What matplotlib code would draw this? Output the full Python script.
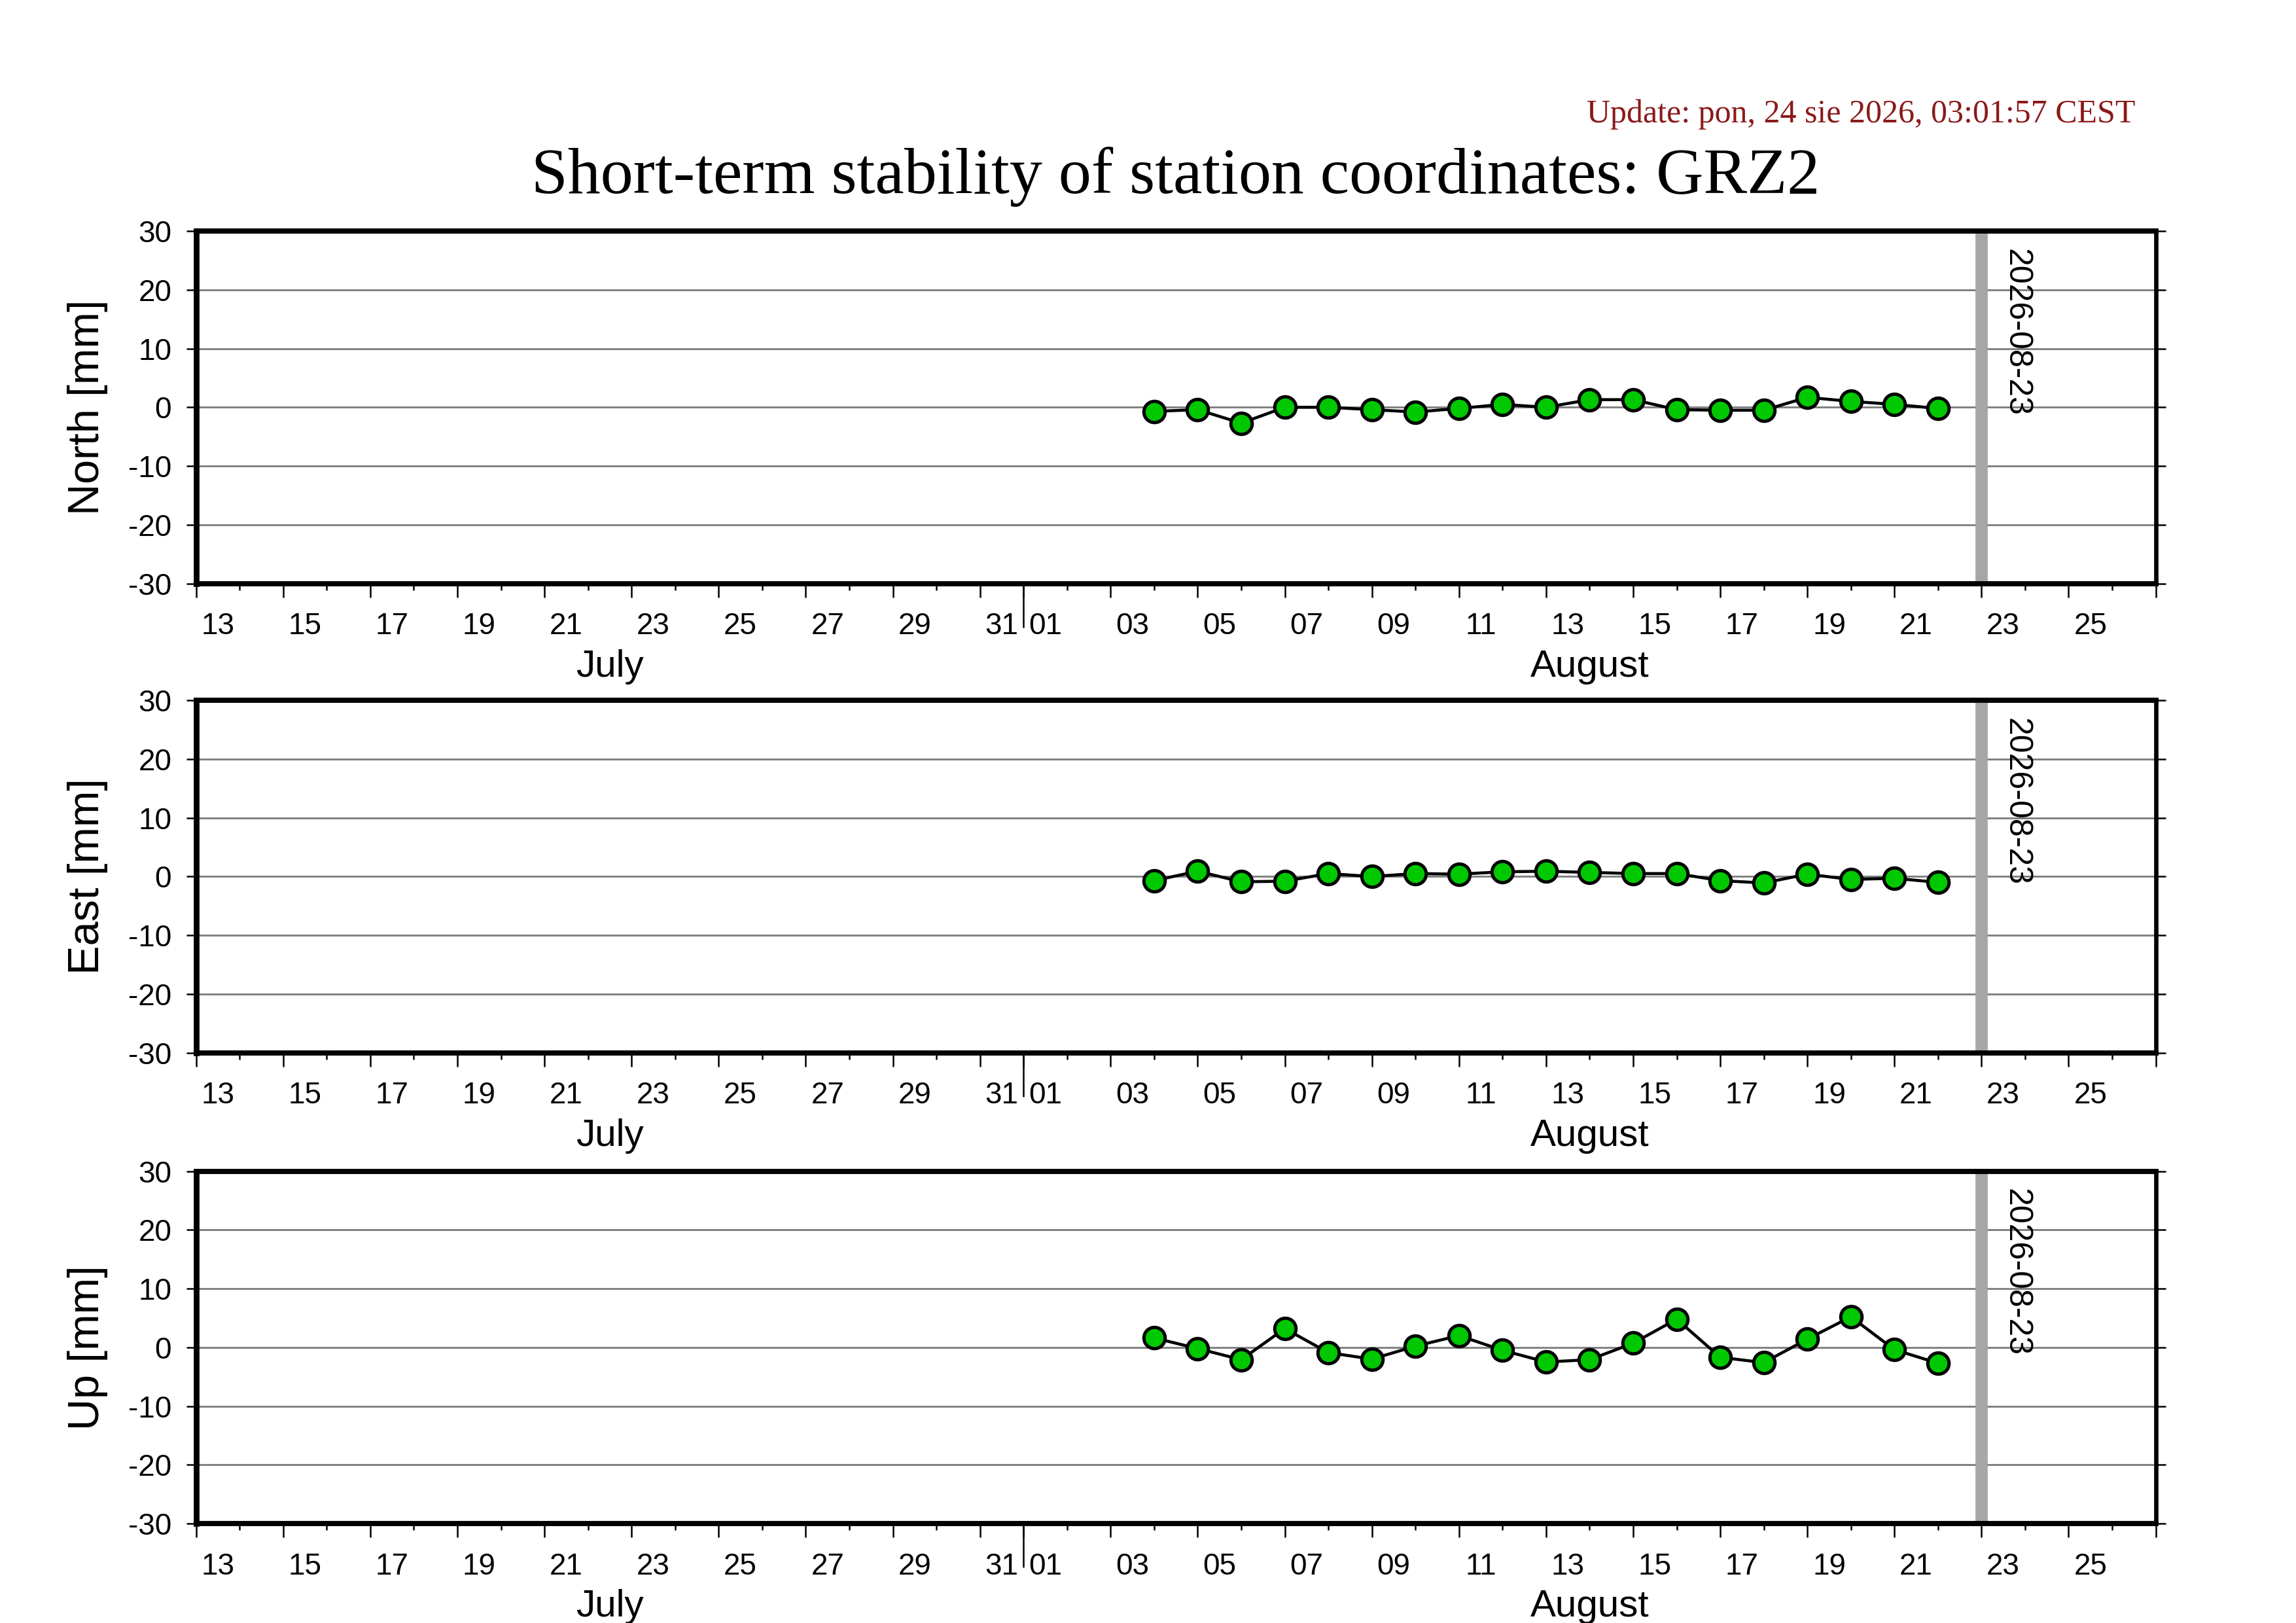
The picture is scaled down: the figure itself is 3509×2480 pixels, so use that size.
import matplotlib
matplotlib.use("Agg")
import matplotlib.pyplot as plt
import matplotlib.dates as mdates
from matplotlib.ticker import FixedLocator, NullFormatter
from datetime import datetime
import numpy as np

# ---- data ------------------------------------------------------------------ #
STATION = "GRZ2"
UPDATE = "Update: pon, 24 sie 2026, 03:01:57 CEST"

dates = ["2026-08-04", "2026-08-05", "2026-08-06", "2026-08-07", "2026-08-08",
         "2026-08-09", "2026-08-10", "2026-08-11", "2026-08-12", "2026-08-13",
         "2026-08-14", "2026-08-15", "2026-08-16", "2026-08-17", "2026-08-18",
         "2026-08-19", "2026-08-20", "2026-08-21", "2026-08-22"]
north = [-0.7, -0.4, -2.7, 0.0, 0.0, -0.4, -0.8, -0.2, 0.5, 0.0,
         1.3, 1.3, -0.4, -0.5, -0.5, 1.7, 1.0, 0.5, -0.2]
east = [-0.7, 0.9, -0.9, -0.8, 0.5, 0.0, 0.5, 0.4, 0.8, 0.9,
        0.7, 0.5, 0.5, -0.7, -1.1, 0.4, -0.5, -0.3, -1.0]
up = [1.6, -0.2, -2.1, 3.2, -0.9, -2.0, 0.2, 2.0, -0.5, -2.5,
      -2.1, 0.7, 4.8, -1.7, -2.6, 1.4, 5.2, -0.4, -2.7]

components = ["North [mm]", "East [mm]", "Up [mm]"]
series = [north, east, up]

X_START, X_END = "2026-07-13", "2026-08-27"
MONTH_EDGE = "2026-08-01"
MARK_DATE = "2026-08-23"
months = [("July", X_START, MONTH_EDGE), ("August", MONTH_EDGE, X_END)]
y_ticks = [-30, -20, -10, 0, 10, 20, 30]

SANS = ["Liberation Sans", "DejaVu Sans"]
SERIF = ["Liberation Serif", "DejaVu Serif"]


def day(s):
    return mdates.date2num(datetime.strptime(s, "%Y-%m-%d"))


x0, x1 = day(X_START), day(X_END)
all_days = np.arange(x0, x1 + 1)
day_no = [mdates.num2date(d).day for d in all_days]
major = [d for d, n in zip(all_days, day_no) if n % 2 == 1]
minor = [d for d, n in zip(all_days, day_no) if n % 2 == 0]
lab_pos = [d + 0.5 for d in major if d + 1 <= x1]
lab_txt = [f"{mdates.num2date(d).day:02d}" for d in major if d + 1 <= x1]
xs = [day(d) for d in dates]

plt.rcParams["font.family"] = SANS

fig = plt.figure(figsize=(3509 / 300, 2480 / 300), dpi=300)
bottoms = [0.6405, 0.3514, 0.0613]
for name, vals, b in zip(components, series, bottoms):
    ax = fig.add_axes((0.0854, b, 0.8535, 0.2171))
    ax.set_xlim(x0, x1)
    ax.set_ylim(-30, 30)

    for s, lw in (("left", 2.1), ("bottom", 1.9), ("top", 1.9), ("right", 1.6)):
        ax.spines[s].set_linewidth(lw)

    ax.yaxis.set_major_locator(FixedLocator(y_ticks))
    ax.set_yticklabels([str(t) for t in y_ticks])
    ax.tick_params(axis="y", which="major", direction="out", length=3.5, width=0.6,
                   left=True, right=True, labelsize=11, pad=5.5)
    ax.yaxis.grid(True, color="#808080", lw=0.7, zorder=0)
    ax.set_axisbelow(True)

    ax.xaxis.set_major_locator(FixedLocator(major))
    ax.xaxis.set_minor_locator(FixedLocator(minor))
    ax.xaxis.set_major_formatter(NullFormatter())
    ax.tick_params(axis="x", which="major", direction="out", length=5, width=0.6)
    ax.tick_params(axis="x", which="minor", direction="out", length=2.4, width=0.6)

    # day labels, centred on each labelled day
    sec = ax.secondary_xaxis("bottom")
    sec.set_xticks(lab_pos, lab_txt)
    sec.tick_params(length=0, labelsize=11, pad=10.5)
    sec.spines["bottom"].set_visible(False)

    # long tick at the month boundary
    sec2 = ax.secondary_xaxis("bottom")
    sec2.set_xticks([day(MONTH_EDGE)], [""])
    sec2.tick_params(length=16, width=0.6)
    sec2.spines["bottom"].set_visible(False)

    for m, a, e in months:
        ax.annotate(m, xy=((day(a) + day(e)) / 2, 0), xycoords=("data", "axes fraction"),
                    xytext=(0, -30.5), textcoords="offset points",
                    ha="center", va="center", fontsize=14)

    ax.axvline(day(MARK_DATE), color="#a6a6a6", lw=4.5, zorder=1)
    ax.text(day(MARK_DATE) + 0.8, 27, MARK_DATE, rotation=-90, ha="center", va="top",
            fontsize=12)

    ax.plot(xs, vals, color="black", lw=1.1, marker="o", ms=7.8,
            mfc="#00c800", mec="black", mew=1.2, zorder=3)

    ax.set_ylabel(name, fontsize=16)
    ax.yaxis.set_label_coords(-0.045, 0.5)

fig.text(0.512, 0.8912, f"Short-term stability of station coordinates: {STATION}",
         ha="center", va="center", fontsize=24, family=SERIF)
fig.text(0.930, 0.9297, UPDATE, ha="right", va="center", fontsize=12,
         color="#8b1a1a", family=SERIF)

fig.savefig("out.png", dpi=300)
plt.close(fig)
